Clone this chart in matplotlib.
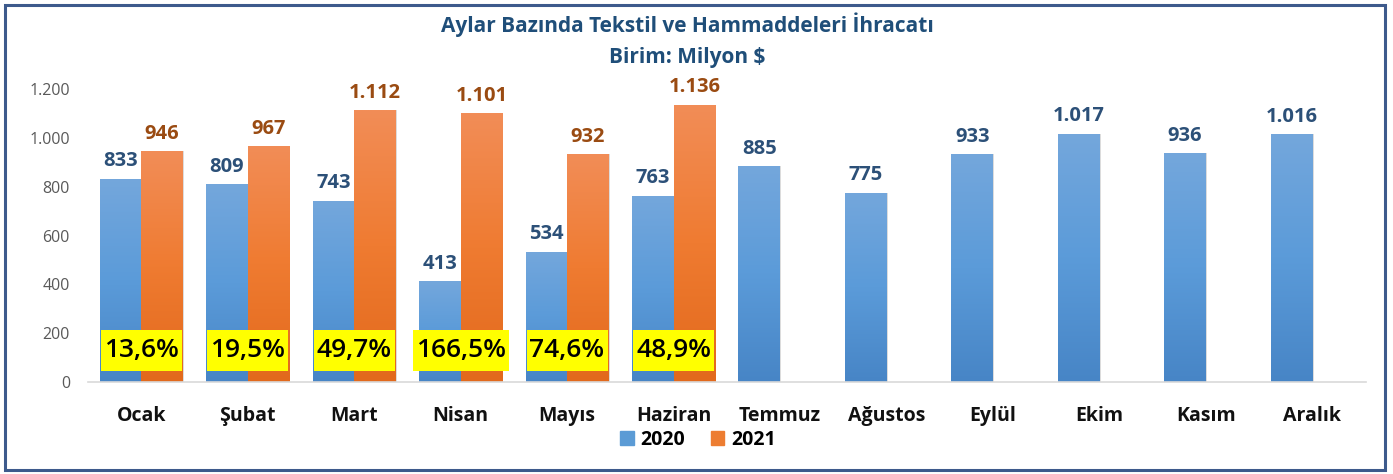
import matplotlib
matplotlib.use("Agg")
import matplotlib.pyplot as plt
import numpy as np
from matplotlib.patches import Rectangle
from matplotlib.colors import LinearSegmentedColormap

plt.rcParams['font.family'] = ['Open Sans', 'DejaVu Sans']

months = ["Ocak", "Şubat", "Mart", "Nisan", "Mayıs", "Haziran", "Temmuz",
          "Ağustos", "Eylül", "Ekim", "Kasım", "Aralık"]
v2020 = [833, 809, 743, 413, 534, 763, 885, 775, 933, 1017, 936, 1016]
v2021 = [946, 967, 1112, 1101, 932, 1136]
changes = ["13,6%", "19,5%", "49,7%", "166,5%", "74,6%", "48,9%"]
yticks = [0, 200, 400, 600, 800, 1000, 1200]

def tr(n):
    return f"{n:,}".replace(",", ".")

W, H = 1393, 474
fig = plt.figure(figsize=(W / 100, H / 100), dpi=100)
ax = fig.add_axes([88 / W, 1 - 382 / H, 1277.5 / W, 293 / H])
ax.set_xlim(-0.5, len(months) - 0.5)
ax.set_ylim(0, 1200)

bw = 0.39
blue_cmap = LinearSegmentedColormap.from_list("b", ["#4785c6", "#5b9bd9", "#74a7dc"])
orange_cmap = LinearSegmentedColormap.from_list("o", ["#e2691c", "#ef7b31", "#f28d57"])
grad = np.linspace(0, 1, 256).reshape(-1, 1)

def grad_bar(x, h, cmap):
    bars = ax.bar(x, h, width=bw, align='edge', color='none', edgecolor='none', zorder=2)
    b = bars[0]
    im = ax.imshow(grad, cmap=cmap, origin='lower', aspect='auto',
                   extent=[x, x + bw, 0, h], zorder=2)
    im.set_clip_path(b)
    ax.add_patch(Rectangle((x + bw, 0), 0.012, h, color='#bbbbbb', alpha=0.5, zorder=1, lw=0))

xs = np.arange(len(months))
for i, v in enumerate(v2020):
    x0 = i - bw
    grad_bar(x0, v, blue_cmap)
    ax.text(x0 + bw / 2, v + 30, tr(v), ha='center', va='bottom', fontsize=14.5,
            fontweight='bold', color='#2c5078', zorder=5, clip_on=False)
for i, v in enumerate(v2021):
    x0 = i
    grad_bar(x0, v, orange_cmap)
    ax.text(x0 + bw / 2, v + 30, tr(v), ha='center', va='bottom', fontsize=14.5,
            fontweight='bold', color='#9a4b12', zorder=5, clip_on=False)

# percentage labels with yellow boxes
fig.canvas.draw()
renderer = fig.canvas.get_renderer()
for i, c in enumerate(changes):
    t = ax.text(i, 129, c, ha='center', va='center', fontsize=19, color='black',
                fontweight='semibold', zorder=7)
    bb = t.get_window_extent(renderer=renderer)
    inv = ax.transData.inverted()
    (x0, _) = inv.transform((bb.x0 - 3, 0))
    (x1, _) = inv.transform((bb.x1 + 3, 0))
    ax.add_patch(Rectangle((x0, 45), x1 - x0, 168, color='#ffff00', zorder=6, lw=0))

ax.set_xticks(xs)
ax.set_xticklabels(months, fontsize=14, fontweight='bold', color='#111111')
ax.tick_params(axis='x', length=0, pad=17.5)
ax.set_yticks(yticks)
ax.set_yticklabels([tr(v) for v in yticks], fontsize=11.5, color='#595959')
ax.tick_params(axis='y', length=0, pad=13)
for s in ['top', 'right', 'left']:
    ax.spines[s].set_visible(False)
ax.spines['bottom'].set_color('#d9d9d9')
ax.spines['bottom'].set_linewidth(1.2)

fig.text(687 / W, 1 - 25 / H, "Aylar Bazında Tekstil ve Hammaddeleri İhracatı", ha='center',
         va='center', fontsize=15, fontweight='bold', color='#1f4e79')
fig.text(687 / W, 1 - 57 / H, "Birim: Milyon $", ha='center', va='center', fontsize=15,
         fontweight='bold', color='#1f4e79')

handles = [Rectangle((0, 0), 1, 1, color='#5b9bd5'), Rectangle((0, 0), 1, 1, color='#ed7d31')]
leg = fig.legend(handles, ['2020', '2021'], loc='center', bbox_to_anchor=(698 / W, 1 - 440 / H),
                 ncol=2, frameon=False, prop={'weight': 'bold', 'size': 14},
                 handlelength=0.7, handleheight=0.7, handletextpad=0.35, columnspacing=1.3)

fig.patches.append(Rectangle((4.5 / W, 4 / H), 1380 / W, 465 / H, transform=fig.transFigure,
                             fill=False, edgecolor='#3d5a8c', lw=2.2, zorder=0))
fig.savefig("out.png", dpi=100, facecolor='white')
